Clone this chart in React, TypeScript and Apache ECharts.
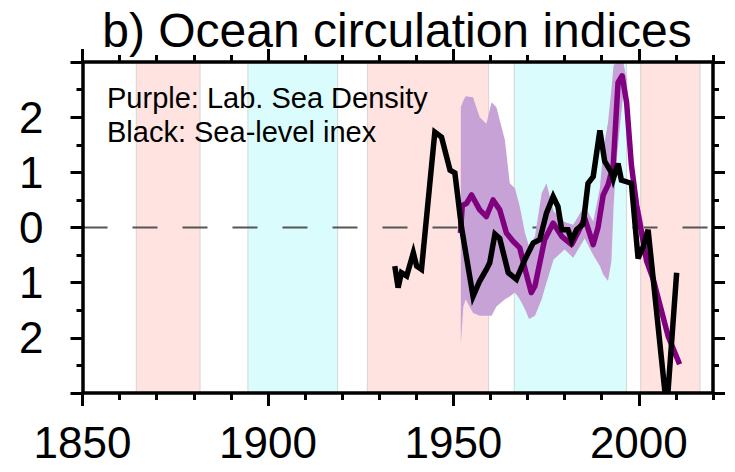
import React, { useEffect, useRef } from "react";
import * as echarts from "echarts";

// ---- data ----
const titleText = "b) Ocean circulation indices";
const legendLines = ["Purple: Lab. Sea Density", "Black: Sea-level inex"];

const xMin = 1850;
const xMax = 2020;
const majorYears = [1850, 1900, 1950, 2000];
const yMin = -3;
const yMax = 3;
const yTickValues = [2, 1, 0, -1, -2];
// the minus signs of -1 and -2 are cropped off in the reference picture
const yTickLabels = ["2", "1", "0", "1", "2"];

// shaded periods
const shadeStart = [1864.5, 1894.6, 1926.8, 1966.4, 2000.5];
const shadeEnd = [1881.7, 1918.8, 1959.5, 1996.7, 2016.5];
const shadeKind = ["warm", "cold", "warm", "cold", "warm"];

// Black: sea-level index
const blackYears = [
  1934.2, 1935.1, 1936.0, 1937.4, 1939.2, 1940.1, 1941.4, 1945.0, 1946.8, 1949.1,
  1950.4, 1952.2, 1955.3, 1957.1, 1958.9, 1959.8, 1961.2, 1962.5, 1964.8, 1967.0,
  1969.3, 1971.5, 1973.3, 1975.1, 1976.9, 1978.2, 1979.2, 1980.9, 1981.9, 1983.2,
  1985.0, 1986.3, 1987.7, 1989.5, 1990.8, 1992.6, 1993.1, 1994.4, 1995.3, 1997.1,
  1998.0, 1999.8, 2001.2, 2002.5, 2007.0, 2007.9, 2010.2,
];
const blackValues = [
  -0.7, -1.09, -0.82, -0.88, -0.46, -0.7, -0.76, 1.73, 1.64, 1.04,
  0.99, 0.0, -1.25, -0.97, -0.76, -0.64, -0.12, -0.2, -0.82, -0.94,
  -0.58, -0.28, -0.22, 0.26, 0.56, 0.38, -0.04, -0.04, -0.24, -0.04,
  0.06, 0.8, 0.92, 1.76, 1.2, 1.0, 0.88, 1.16, 0.86, 0.82,
  0.8, -0.56, -0.34, -0.04, -2.96, -2.95, -0.82,
];

// Purple: Labrador Sea density
const purpleYears = [
  1951.9, 1952.4, 1953.6, 1954.9, 1957.1, 1958.9, 1960.7, 1962.5, 1964.3, 1966.1,
  1967.9, 1969.5, 1971.0, 1972.0, 1974.6, 1976.9, 1979.2, 1981.9, 1983.5, 1985.4,
  1987.7, 1989.0, 1990.4, 1991.7, 1993.1, 1994.4, 1995.5, 1996.7, 1998.0, 1999.4,
  2002.1, 2003.9, 2007.9, 2011.0,
];
const purpleValues = [
  -0.1, 0.4, 0.44, 0.59, 0.32, 0.2, 0.5, 0.32, -0.1, -0.25,
  -0.37, -0.8, -1.18, -1.06, -0.22, 0.08, -0.16, -0.31, -0.1, 0.17,
  -0.31, 0.0, 0.59, 0.77, 1.13, 2.63, 2.75, 2.27, 1.13, 0.41,
  -0.61, -0.94, -1.97, -2.48,
];

// Purple uncertainty band
const bandYears = [
  1952.0, 1952.7, 1953.3, 1955.3, 1957.1, 1958.9, 1960.3, 1961.6, 1963.9, 1965.2,
  1966.6, 1967.9, 1969.3, 1970.4, 1972.0, 1973.8, 1975.1, 1977.0, 1980.0, 1982.3,
  1985.4, 1987.7, 1989.5, 1990.4, 1991.7, 1992.6, 1993.2, 1994.0, 1995.0, 1995.8,
  1996.7, 1998.0, 1999.4, 2001.0, 2002.5, 2003.5,
];
const bandUpper = [
  2.18, 2.3, 2.38, 2.36, 2.0, 1.88, 2.27, 2.18, 1.58, 0.8,
  0.71, 0.38, -0.1, -0.34, -0.16, 0.62, 0.8, 0.3, 0.1, 0.05,
  0.4, 0.11, 0.71, 1.4, 1.91, 2.5, 2.94, 3.0, 3.0, 3.0,
  2.7, 1.4, 0.6, 0.15, -0.4, -0.75,
];
const bandLower = [
  -2.1, -1.43, -1.3, -1.55, -1.6, -1.6, -1.6, -1.43, -1.3, -1.25,
  -1.18, -1.3, -1.48, -1.66, -1.6, -1.3, -1.0, -0.58, -0.4, -0.55,
  -0.2, -0.5, -0.7, -0.85, -0.97, -0.61, 0.4, 1.2, 1.9, 2.4,
  2.0, 0.9, 0.25, -0.25, -0.7, -0.95,
];

const FONT = "'Liberation Sans', Arial, Helvetica, sans-serif";
const WARM = "#FFE3E0";
const COLD = "#DAFCFC";
const BAND = "#C6A2D6";
const PURPLE = "#800080";

export default function App() {
  const ref = useRef<HTMLDivElement>(null);

  useEffect(() => {
    if (!ref.current) return;
    const chart = echarts.init(ref.current, undefined, { renderer: "svg" });

    const axisLineStyle = { color: "#000", width: 3.5 };
    const tickStyle = { color: "#000", width: 3 };

    const xAxisBase = {
      type: "value" as const,
      min: xMin,
      max: xMax,
      interval: 10,
      z: 10,
      splitLine: { show: false },
    };

    const yAxisBase = {
      type: "value" as const,
      min: yMin,
      max: yMax,
      interval: 1,
      z: 10,
      splitLine: { show: false },
      minorSplitLine: { show: false },
      axisLine: { show: true, onZero: false, lineStyle: axisLineStyle },
      axisTick: { show: true, length: 12, lineStyle: tickStyle },
      minorTick: { show: true, splitNumber: 2, length: 6, lineStyle: tickStyle },
    };

    const option: any = {
      animation: false,
      grid: { left: 82.5, right: 22, top: 62, bottom: 79, containLabel: false },
      xAxis: [
        {
          ...xAxisBase,
          position: "bottom",
          axisLine: { show: true, onZero: false, lineStyle: axisLineStyle },
          axisTick: { show: true, customValues: majorYears, length: 13, lineStyle: tickStyle },
          axisLabel: {
            customValues: majorYears,
            fontSize: 44,
            fontFamily: FONT,
            color: "#000",
            margin: 27,
            formatter: (v: number) => String(v),
          },
        },
        {
          ...xAxisBase,
          position: "bottom",
          offset: 0,
          axisLine: { show: false, onZero: false },
          axisTick: { show: true, length: 7, lineStyle: tickStyle },
          axisLabel: { show: false },
        },
        {
          ...xAxisBase,
          position: "top",
          axisLine: { show: true, onZero: false, lineStyle: axisLineStyle },
          axisTick: { show: true, customValues: majorYears, length: 13, lineStyle: tickStyle },
          axisLabel: { show: false },
        },
        {
          ...xAxisBase,
          position: "top",
          offset: 0,
          axisLine: { show: false, onZero: false },
          axisTick: { show: true, length: 7, lineStyle: tickStyle },
          axisLabel: { show: false },
        },
      ],
      yAxis: [
        {
          ...yAxisBase,
          position: "left",
          axisLabel: {
            fontSize: 44,
            fontFamily: FONT,
            color: "#000",
            margin: 39,
            formatter: (v: number) => {
              const i = yTickValues.indexOf(v);
              return i >= 0 ? yTickLabels[i] : "";
            },
          },
        },
        {
          ...yAxisBase,
          position: "right",
          axisLabel: { show: false },
        },
      ],
      graphic: [
        {
          type: "text",
          z: 100,
          style: {
            text: titleText,
            x: 397,
            y: 30,
            align: "center",
            verticalAlign: "middle",
            fontSize: 48,
            fontFamily: FONT,
            fill: "#000",
          },
        },
        ...legendLines.map((t, i) => ({
          type: "text",
          z: 100,
          style: {
            text: t,
            x: 107,
            y: 98 + i * 34,
            align: "left",
            verticalAlign: "middle",
            fontSize: 29,
            fontFamily: FONT,
            fill: "#000",
          },
        })),
      ],
      series: [
        {
          name: "zero",
          type: "line",
          z: 2,
          silent: true,
          symbol: "none",
          data: [
            [xMin, 0],
            [xMax, 0],
          ],
          lineStyle: { color: "#555", width: 2, type: [25, 25] },
          markArea: {
            silent: true,
            z: 1,
            data: shadeStart.map((s, i) => [
              {
                xAxis: s,
                itemStyle: {
                  color: shadeKind[i] === "warm" ? WARM : COLD,
                  borderColor: "rgba(200,200,200,0.7)",
                  borderWidth: 1,
                },
              },
              { xAxis: shadeEnd[i] },
            ]),
          },
        },
        {
          name: "band",
          type: "custom",
          z: 3,
          silent: true,
          clip: true,
          encode: { x: 0, y: 1 },
          data: [[bandYears[0], bandUpper[0]]],
          renderItem: (_params: any, api: any) => {
            const upper = bandYears.map((y, i) => api.coord([y, bandUpper[i]]));
            const lower = bandYears.map((y, i) => api.coord([y, bandLower[i]])).reverse();
            return {
              type: "polygon",
              shape: { points: upper.concat(lower) },
              style: { fill: BAND },
            };
          },
        },
        {
          name: "Lab. Sea Density",
          type: "line",
          z: 4,
          symbol: "none",
          lineStyle: { color: PURPLE, width: 5.5, join: "round" },
          data: purpleYears.map((y, i) => [y, purpleValues[i]]),
        },
        {
          name: "Sea-level index",
          type: "line",
          z: 5,
          symbol: "none",
          lineStyle: { color: "#000", width: 5.5, join: "miter" },
          data: blackYears.map((y, i) => [y, blackValues[i]]),
        },
      ],
    };

    chart.setOption(option);
    return () => chart.dispose();
  }, []);

  return (
    <div
      ref={ref}
      style={{ position: "fixed", left: 0, top: 0, width: 735, height: 472, background: "#fff" }}
    />
  );
}
